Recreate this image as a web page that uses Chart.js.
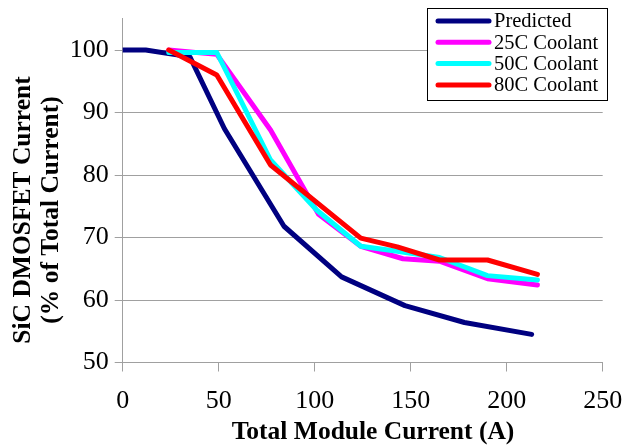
<!DOCTYPE html>
<html>
<head>
<meta charset="utf-8">
<script src="https://cdn.jsdelivr.net/npm/chart.js@4.4.0/dist/chart.umd.min.js"></script>
<style>
html,body{margin:0;padding:0;background:#fff;}
#wrap{width:625px;height:445px;}
</style>
</head>
<body>
<div id="wrap"><canvas id="c" width="625" height="445"></canvas></div>
<script>
const seriesNames = ['Predicted', '25C Coolant', '50C Coolant', '80C Coolant'];
const seriesColors = ['#000080', '#FF00FF', '#00FFFF', '#FF0000'];

const predX = [0, 12, 35, 53, 84, 114, 147, 178, 213];
const predY = [100, 100, 98.9, 87.4, 71.8, 63.7, 59.1, 56.4, 54.5];

const c25X = [24, 49, 77, 102, 124, 146, 165, 190, 216];
const c25Y = [100, 99.3, 87.2, 73.7, 68.6, 66.6, 66.2, 63.4, 62.4];

const c50X = [24, 49, 77, 101, 124, 143, 165, 190, 216];
const c50Y = [99.6, 99.6, 82.4, 74.4, 68.6, 67.8, 66.8, 63.9, 63.2];

const c80X = [24, 49, 77, 124, 143, 165, 190, 216];
const c80Y = [100, 96, 81.6, 69.9, 68.5, 66.4, 66.4, 64.1];

const xTicks = [0, 50, 100, 150, 200, 250];
const yTicks = [50, 60, 70, 80, 90, 100];

const xTitle = 'Total Module Current (A)';
const yTitleLines = ['SiC DMOSFET Current', '(% of Total Current)'];

const FONT = "'Liberation Serif', 'Times New Roman', serif";

function pts(xs, ys) { return xs.map((x, i) => ({x: x, y: ys[i]})); }

const allX = [predX, c25X, c50X, c80X];
const allY = [predY, c25Y, c50Y, c80Y];
const drawOrder = [4, 3, 2, 1];

const datasets = seriesNames.map((n, i) => ({
  label: n,
  data: pts(allX[i], allY[i]),
  borderColor: seriesColors[i],
  backgroundColor: seriesColors[i],
  borderWidth: 5,
  pointRadius: 0,
  tension: 0,
  fill: false,
  order: drawOrder[i],
  borderJoinStyle: 'round',
  borderCapStyle: 'round'
}));

const decorPlugin = {
  id: 'decor',
  afterDraw(chart) {
    const ctx = chart.ctx;
    ctx.save();
    // Legend box
    const lx = 427, ly = 8, lw = 180, lh = 92;
    ctx.fillStyle = '#fff';
    ctx.fillRect(lx, ly, lw, lh);
    ctx.strokeStyle = '#000';
    ctx.lineWidth = 1;
    ctx.strokeRect(lx + 0.5, ly + 0.5, lw, lh);
    const rows = [21, 42.3, 63.5, 85];
    ctx.font = '20.5px ' + FONT;
    ctx.textBaseline = 'middle';
    ctx.textAlign = 'left';
    chart.data.datasets.forEach((ds, i) => {
      const y = rows[i];
      ctx.strokeStyle = ds.borderColor;
      ctx.lineWidth = 5;
      ctx.lineCap = 'round';
      ctx.beginPath();
      ctx.moveTo(438, y);
      ctx.lineTo(489, y);
      ctx.stroke();
      ctx.fillStyle = '#000';
      ctx.fillText(ds.label, 494, y + 1);
    });
    // Y title
    ctx.fillStyle = '#000';
    ctx.font = 'bold 25.5px ' + FONT;
    ctx.textAlign = 'center';
    ctx.textBaseline = 'middle';
    ctx.save();
    ctx.translate(23, 210);
    ctx.rotate(-Math.PI / 2);
    ctx.fillText(yTitleLines[0], 0, 0);
    ctx.restore();
    ctx.save();
    ctx.translate(51, 210);
    ctx.rotate(-Math.PI / 2);
    ctx.fillText(yTitleLines[1], 0, 0);
    ctx.restore();
    // X title
    ctx.textBaseline = 'alphabetic';
    ctx.fillText(xTitle, 373, 439);
    ctx.restore();
  }
};

new Chart(document.getElementById('c'), {
  type: 'line',
  data: { datasets: datasets },
  options: {
    responsive: false,
    animation: false,
    devicePixelRatio: 1,
    layout: { padding: { top: 18.75, right: 22.3, left: 0, bottom: 0 } },
    plugins: { legend: { display: false }, tooltip: { enabled: false } },
    scales: {
      x: {
        type: 'linear',
        min: 0, max: 250,
        afterBuildTicks: (s) => { s.ticks = xTicks.map(v => ({value: v})); },
        afterFit: (s) => { s.height = 82.5; s.paddingRight = 0; s.paddingLeft = 0; },
        ticks: { font: { family: FONT, size: 26 }, color: '#000', padding: 14, maxRotation: 0, autoSkip: false },
        grid: { drawOnChartArea: false, drawTicks: true, tickLength: 9, color: '#a0a0a0', lineWidth: 1 },
        border: { color: '#a0a0a0', width: 1 }
      },
      y: {
        type: 'linear',
        min: 50, max: 105,
        afterBuildTicks: (s) => { s.ticks = yTicks.map(v => ({value: v})); },
        afterFit: (s) => { s.width = 122.7; s.paddingTop = 0; s.paddingBottom = 0; },
        ticks: { font: { family: FONT, size: 26 }, color: '#000', padding: 6, autoSkip: false },
        grid: { drawOnChartArea: true, drawTicks: true, tickLength: 8, color: '#a0a0a0', lineWidth: 1 },
        border: { color: '#a0a0a0', width: 1 }
      }
    }
  },
  plugins: [decorPlugin]
});
</script>
</body>
</html>
